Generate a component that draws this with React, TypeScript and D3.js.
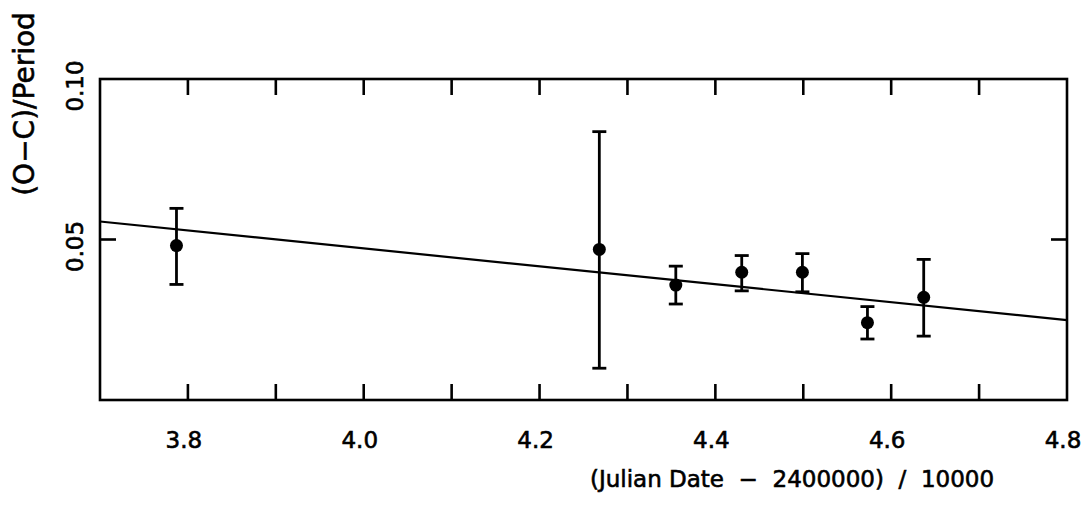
import { useEffect, useRef } from 'react';
import * as d3 from 'd3';

// ── Data ──────────────────────────────────────────────────────────────────────
const jd      = [3.787, 4.268, 4.355, 4.430, 4.499, 4.573, 4.637];
const oc      = [0.0481, 0.0469, 0.0358, 0.0398, 0.0398, 0.0241, 0.0320];
const errHi   = [0.0597, 0.0836, 0.0417, 0.0450, 0.0456, 0.0291, 0.0438];
const errLo   = [0.0360, 0.0099, 0.0299, 0.0340, 0.0337, 0.0190, 0.0199];
const fitX    = [3.7, 4.8];
const fitY    = [0.0556, 0.0249];
const xTicks  = [3.7, 3.8, 3.9, 4.0, 4.1, 4.2, 4.3, 4.4, 4.5, 4.6, 4.7, 4.8];
const xLabels = [3.8, 4.0, 4.2, 4.4, 4.6, 4.8];
const yTicks  = [0.05];
const yLabels = [0.05, 0.10];

const W = 1091, H = 508;
const FONT = '"DejaVu Sans", Verdana, sans-serif';

export default function App() {
  const svgRef = useRef<SVGSVGElement>(null);

  useEffect(() => {
    if (!svgRef.current) return;
    const svg = d3.select(svgRef.current);
    svg.selectAll('*').remove();

    const M = { top: 79, right: 24, bottom: 108, left: 100 };
    const iW = W - M.left - M.right;
    const iH = H - M.top - M.bottom;

    const x = d3.scaleLinear().domain([3.7, 4.8]).range([M.left, M.left + iW]);
    const y = d3.scaleLinear().domain([0, 0.1]).range([M.top + iH, M.top]);
    const TICK = 16;

    // text gets a thin stroke so it reads as heavy as the scanned lettering
    const ink = (sel: d3.Selection<any, any, any, any>) =>
      sel.attr('font-family', FONT).attr('fill', '#000')
        .attr('stroke', '#000').attr('stroke-width', 0.6);

    // ── Frame ────────────────────────────────────────────────────────────────
    svg.append('rect')
      .attr('x', M.left).attr('y', M.top).attr('width', iW).attr('height', iH)
      .attr('fill', 'none').attr('stroke', '#000').attr('stroke-width', 2.6);

    // ── Ticks (inward, all four sides) ──────────────────────────────────────
    const tk = svg.append('g').attr('stroke', '#000').attr('stroke-width', 2.6);
    xTicks.slice(1, -1).forEach(v => {
      tk.append('line').attr('x1', x(v)).attr('x2', x(v))
        .attr('y1', M.top + iH).attr('y2', M.top + iH - TICK);
      tk.append('line').attr('x1', x(v)).attr('x2', x(v))
        .attr('y1', M.top).attr('y2', M.top + TICK);
    });
    yTicks.forEach(v => {
      tk.append('line').attr('x1', M.left).attr('x2', M.left + TICK)
        .attr('y1', y(v)).attr('y2', y(v));
      tk.append('line').attr('x1', M.left + iW).attr('x2', M.left + iW - TICK)
        .attr('y1', y(v)).attr('y2', y(v));
    });

    // ── Tick labels ──────────────────────────────────────────────────────────
    svg.append('g').selectAll('text').data(xLabels).join('text')
      .attr('x', d => x(d) - 4).attr('y', 448)
      .attr('text-anchor', 'middle')
      .attr('font-size', 23)
      .call(ink)
      .text(d => d.toFixed(1));

    svg.append('g').selectAll('text').data(yLabels).join('text')
      .attr('transform', d => `translate(83,${y(d) + 7}) rotate(-90)`)
      .attr('text-anchor', 'middle')
      .attr('font-size', 23)
      .call(ink)
      .text(d => d.toFixed(2));

    // ── Axis titles ──────────────────────────────────────────────────────────
    svg.append('text')
      .attr('x', 792).attr('y', 487)
      .attr('text-anchor', 'middle')
      .attr('font-size', 23)
      .call(ink)
      .style('white-space', 'pre')
      .text('(Julian Date  −  2400000)  /  10000');

    svg.append('text')
      .attr('transform', 'translate(34,104) rotate(-90)')
      .attr('text-anchor', 'middle')
      .attr('font-size', 28)
      .call(ink)
      .text('(O−C)/Period');

    // ── Fit line ─────────────────────────────────────────────────────────────
    const line = d3.line<number>().x((_, i) => x(fitX[i])).y(d => y(d));
    svg.append('path').datum(fitY)
      .attr('fill', 'none').attr('stroke', '#000').attr('stroke-width', 2.2)
      .attr('d', line);

    // ── Error bars + points ──────────────────────────────────────────────────
    const g = svg.append('g');
    jd.forEach((v, i) => {
      const cx = x(v);
      g.append('line').attr('x1', cx).attr('x2', cx)
        .attr('y1', y(errLo[i])).attr('y2', y(errHi[i]))
        .attr('stroke', '#000').attr('stroke-width', 2.8);
      [errLo[i], errHi[i]].forEach(e => {
        g.append('line').attr('x1', cx - 7).attr('x2', cx + 7)
          .attr('y1', y(e)).attr('y2', y(e))
          .attr('stroke', '#000').attr('stroke-width', 2.8);
      });
      g.append('circle').attr('cx', cx).attr('cy', y(oc[i])).attr('r', 6.5)
        .attr('fill', '#000');
    });
  }, []);

  return (
    <svg ref={svgRef} width={W} height={H}
      style={{ position: 'absolute', left: 0, top: 0, background: '#fff' }} />
  );
}
